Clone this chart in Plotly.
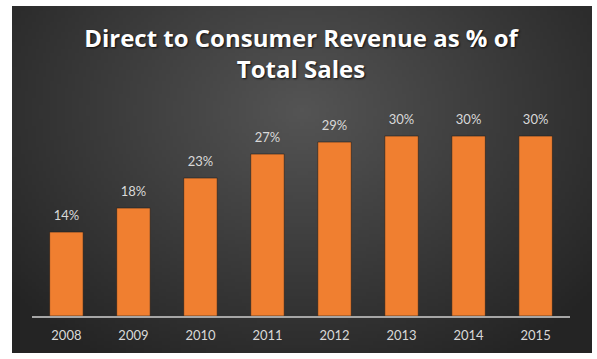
import base64, struct, zlib, math
import plotly.graph_objects as go

# ---- data ----
years = ["2008", "2009", "2010", "2011", "2012", "2013", "2014", "2015"]
dtc_share_pct = [14, 18, 23, 27, 29, 30, 30, 30]
value_labels = [f"{v}%" for v in dtc_share_pct]
title_text = "Direct to Consumer Revenue as % of<br>Total Sales"


# ---- radial gradient background as a small PNG (style only) ----
def radial_png(w, h, inner, outer, cx=0.5, cy=0.3):
    rows = []
    for j in range(h):
        row = bytearray([0])
        for i in range(w):
            dx = (i / (w - 1) - cx) * 1.3
            dy = (j / (h - 1) - cy)
            d = min(1.0, math.sqrt(dx * dx + dy * dy) / 0.85)
            for k in range(3):
                row.append(int(round(inner[k] + (outer[k] - inner[k]) * d)))
        rows.append(bytes(row))
    raw = b"".join(rows)

    def chunk(tag, data):
        c = struct.pack(">I", len(data)) + tag + data
        return c + struct.pack(">I", zlib.crc32(tag + data) & 0xFFFFFFFF)

    png = b"\x89PNG\r\n\x1a\n"
    png += chunk(b"IHDR", struct.pack(">IIBBBBB", w, h, 8, 2, 0, 0, 0))
    png += chunk(b"IDAT", zlib.compress(raw, 9))
    png += chunk(b"IEND", b"")
    return "data:image/png;base64," + base64.b64encode(png).decode()


bg = radial_png(160, 100, (84, 84, 84), (36, 36, 36))

fig = go.Figure()
fig.add_trace(
    go.Bar(
        x=years,
        y=dtc_share_pct,
        marker=dict(color="#f07f30", line=dict(color="rgba(30,30,30,0.6)", width=1)),
        width=0.5,
        hoverinfo="x+y",
    )
)
fig.add_trace(
    go.Scatter(
        x=years,
        y=dtc_share_pct,
        text=value_labels,
        mode="markers+text",
        textposition="top center",
        marker=dict(size=12, opacity=0),
        textfont=dict(family="Lato", size=13, color="#d9d9d9"),
        hoverinfo="skip",
        cliponaxis=False,
    )
)

fig.update_layout(
    width=597,
    height=359,
    margin=dict(l=32, r=27, t=106, b=43),
    paper_bgcolor="white",
    plot_bgcolor="rgba(0,0,0,0)",
    showlegend=False,
    title=dict(
        text=title_text,
        x=0.5,
        xref="paper",
        xanchor="center",
        y=1 - 47 / 359,
        yref="container",
        yanchor="middle",
        font=dict(family="Open Sans", size=24, color="white", weight="bold",
                  shadow="1px 1px 2px rgba(0,0,0,0.8)"),
    ),
    images=[
        dict(
            source=bg,
            xref="paper", yref="paper",
            x=(12 - 32) / 538, y=(316 - 6) / 210,
            sizex=580 / 538, sizey=347 / 210,
            xanchor="left", yanchor="top",
            sizing="stretch", layer="below",
        )
    ],
    xaxis=dict(
        type="category",
        showline=True, linecolor="#a6a6a6", linewidth=2,
        ticks="outside", ticklen=6, tickcolor="rgba(0,0,0,0)",
        showgrid=False,
        tickfont=dict(family="Lato", size=13, color="#d9d9d9"),
    ),
    yaxis=dict(range=[0, 35], visible=False, showgrid=False),
)

fig.write_html(
    "out.html",
    config={"displayModeBar": False},
    post_script="document.body.style.margin='0px';",
)
